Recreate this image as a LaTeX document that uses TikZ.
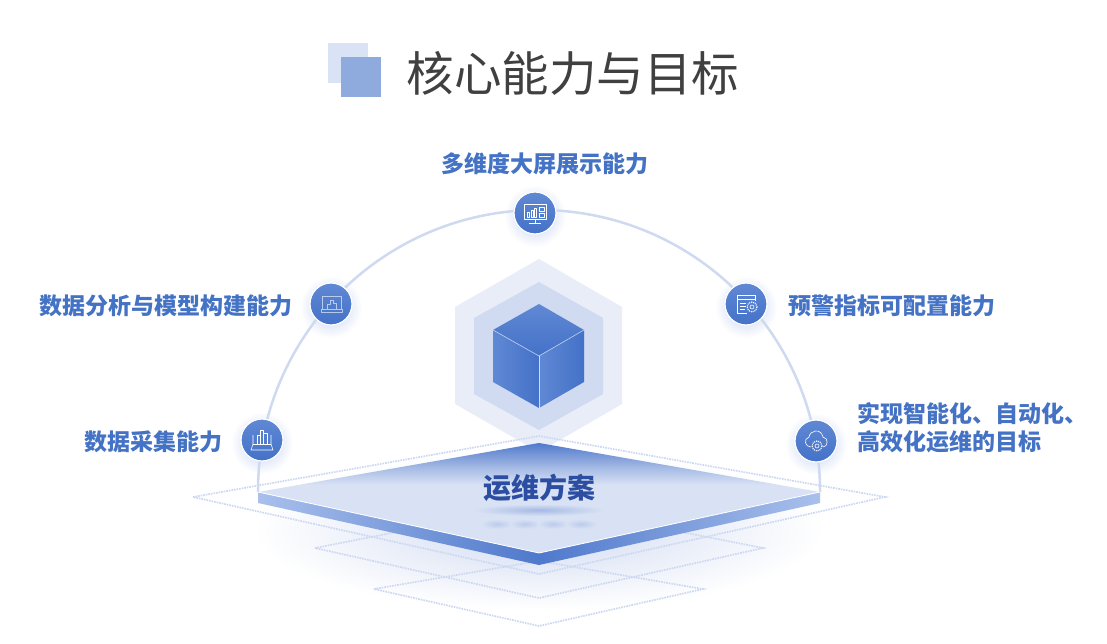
\documentclass[tikz,border=0pt]{standalone}
\usepackage{fontspec}
\setmainfont{Noto Sans CJK SC}

% Colours
\colorlet{titlecolor}{black!75}
\definecolor{labelcolor}{HTML}{4472C4}
\definecolor{plantextcolor}{HTML}{2B4EA3}
\definecolor{lightsquare}{HTML}{DAE3F5}
\definecolor{darksquare}{HTML}{8FAADC}
\definecolor{arccolor}{HTML}{CFDAF0}
\definecolor{hexouter}{HTML}{E9EDF8}
\definecolor{hexinner}{HTML}{D0DAF1}
\definecolor{cubelight}{HTML}{6088D4}
\definecolor{cubedark}{HTML}{4472C8}
\definecolor{platelight}{HTML}{D9E2F4}
\definecolor{platemid}{HTML}{A4B9E4}
\definecolor{platedark}{HTML}{4F79CC}
\definecolor{edgelight}{HTML}{A9C0EC}
\definecolor{dashcolor}{HTML}{CCD8F1}
\definecolor{glowcolor}{HTML}{BCCCEF}
\definecolor{blurcolor}{HTML}{BCCBEB}

\pgfdeclareverticalshading{platetop}{100bp}{color(0bp)=(platelight); color(56bp)=(platelight); color(64bp)=(platemid); color(75bp)=(platedark); color(100bp)=(platedark)}

\begin{document}
\begin{tikzpicture}[x=1pt, y=-1pt]

	\def\cx{539}
	\def\arcr{281}
	\def\iconw{0.6}

	% Styles
	\tikzstyle{capnode} = [circle, minimum size=42pt, inner sep=0pt, draw=white, line width=1.2pt, top color=cubelight, bottom color=cubedark]
	\tikzstyle{capglow} = [inner color=glowcolor, outer color=white]
	\tikzstyle{caplabel} = [text=labelcolor, font=\fontsize{23}{28}\selectfont\bfseries, inner sep=0pt]
	\tikzstyle{iconline} = [white, line width=\iconw pt, line join=round]
	\tikzstyle{gear} = [white, line width=1.2pt, dash pattern=on 1pt off 1pt]
	\tikzstyle{dashline} = [dashcolor, line width=1.7pt, dash pattern=on 1.6pt off 1pt]

	\useasboundingbox (0,0) rectangle (1107,644);
	\fill[white] (0,0) rectangle (1107,644);

	%== Title ==================================================================
	\fill[lightsquare] (328,43) rectangle (368,83);
	\fill[darksquare] (341,57) rectangle (381,97);
	\node[text=titlecolor, font=\fontsize{47.5}{50}\selectfont, inner sep=0pt] (title) at (573,73) {核心能力与目标};

	%== Half circle ============================================================
	\coordinate (monitorpos) at (535,213);
	\coordinate (laptoppos) at (331,304);
	\coordinate (standpos) at (262,440);
	\coordinate (formpos) at (746,304);
	\coordinate (cloudpos) at (816,441);

	\shade[capglow] (535,216) circle (31);
	\shade[capglow] (331,307) circle (31);
	\shade[capglow] (262,443) circle (31);
	\shade[capglow] (746,307) circle (31);
	\shade[capglow] (816,444) circle (31);

	\draw[arccolor, line width=2.5pt] (\cx-\arcr,492) -- (\cx-\arcr,491) arc[start angle=180, end angle=360, radius=\arcr] -- (\cx+\arcr,492);

	%== Hexagons and cube ======================================================
	\fill[hexouter] (\cx,259) -- (622,307) -- (622,404) -- (\cx,452) -- (455,404) -- (455,307) -- cycle;
	\fill[hexinner] (\cx,282) -- (603,318) -- (603,394) -- (\cx,430) -- (474,394) -- (474,318) -- cycle;

	\shade[top color=cubelight, bottom color=cubedark] (\cx,304) -- (584,330) -- (\cx,356) -- (493,330) -- cycle;
	\shade[left color=cubelight, right color=cubedark] (493,330) -- (\cx,356) -- (\cx,408) -- (493,382) -- cycle;
	\shade[left color=cubelight, right color=cubedark] (\cx,356) -- (584,330) -- (584,382) -- (\cx,408) -- cycle;
	\draw[white, opacity=0.55, line width=0.7pt] (493,330) -- (\cx,356) -- (584,330);
	\draw[white, opacity=0.7, line width=0.7pt] (\cx,356) -- (\cx,408);

	%== Dashed layers ==========================================================
	\shade[inner color=hexinner, outer color=white] (\cx,530) ellipse (285 and 80);

	\draw[dashline] (374,589) -- (\cx,561) -- (703,589) -- (\cx,626) -- cycle;
	\draw[dashline] (315,548) -- (\cx,504) -- (763,548) -- (\cx,598) -- cycle;
	\draw[dashline] (193,497) -- (\cx,436) -- (885,497) -- (\cx,574) -- cycle;

	%== Plate ==================================================================
	\shade[left color=edgelight, right color=platedark] (258,492) -- (\cx,553) -- (\cx,565) -- (258,503) -- cycle;
	\shade[left color=platedark, right color=edgelight] (\cx,553) -- (820,492) -- (820,503) -- (\cx,565) -- cycle;
	\shade[shading=platetop] (\cx,443) -- (820,492) -- (\cx,553) -- (258,492) -- cycle;
	\draw[white, line width=0.8pt] (258,492) -- (\cx,553) -- (820,492);

	\shade[inner color=platemid, outer color=platelight] (\cx,510) ellipse (66 and 6);
	\shade[inner color=blurcolor, outer color=platelight] (497,524) ellipse (16 and 5);
	\shade[inner color=blurcolor, outer color=platelight] (525,524) ellipse (16 and 5);
	\shade[inner color=blurcolor, outer color=platelight] (553,524) ellipse (16 and 5);
	\shade[inner color=blurcolor, outer color=platelight] (581,524) ellipse (16 and 5);

	\node[text=plantextcolor, font=\fontsize{28}{32}\selectfont\bfseries, inner sep=0pt] (plan) at (\cx,488) {运维方案};

	%== Capability nodes =======================================================
	\node[capnode] (monitor) at (monitorpos) {};
	\node[capnode] (laptop) at (laptoppos) {};
	\node[capnode] (stand) at (standpos) {};
	\node[capnode] (form) at (formpos) {};
	\node[capnode] (cloud) at (cloudpos) {};

	\node[caplabel] (monitorlabel) at (545,164) {多维度大屏展示能力};
	\node[caplabel, anchor=east] (laptoplabel) at (293,306) {数据分析与模型构建能力};
	\node[caplabel, anchor=east] (standlabel) at (223,442) {数据采集能力};
	\node[caplabel, anchor=west] (formlabel) at (788,306) {预警指标可配置能力};
	\node[caplabel, anchor=west, align=left] (cloudlabel) at (857,428) {实现智能化、自动化、\\高效化运维的目标};

	% Monitor icon
	\begin{scope}[shift={(monitor)}]
		\draw[iconline] (-11,-9) rectangle (11,6);
		\draw[iconline] (0,6) -- (0,10) (-6,10) -- (6,10);
		\draw[iconline] (-7.5,4) rectangle (-5.5,-1);
		\draw[iconline] (-4,4) rectangle (-2,-3);
		\draw[iconline] (-0.5,4) rectangle (1.5,-5);
		\draw[iconline] (4,-6) rectangle (9,-2) (4,0) rectangle (9,4);
	\end{scope}

	% Laptop icon
	\begin{scope}[shift={(laptop)}, opacity=0.6]
		\draw[iconline] (-9,5) -- (-9,-8) -- (10,-8) -- (10,5);
		\draw[iconline] (-10,5) rectangle (11,8);
		\draw[iconline] (-4,5) -- (-4,0) -- (-1,0) -- (-1,-4) -- (2,-4) -- (2,-1) -- (5,-1) -- (5,5);
	\end{scope}

	% Stand icon
	\begin{scope}[shift={(stand)}]
		\draw[iconline] (-9,-5) -- (-9,4) -- (-11,10) -- (11,10) -- (9,4) -- (9,-5);
		\draw[iconline] (-9,4) -- (9,4);
		\draw[iconline] (-5,4) rectangle (-2,-5);
		\draw[iconline] (-2,4) rectangle (1,-10);
		\draw[iconline] (1,4) rectangle (5,-7);
	\end{scope}

	% Form icon
	\begin{scope}[shift={(form)}]
		\draw[iconline] (1,9) -- (-9,9) -- (-9,-9) -- (9,-9) -- (9,-3);
		\draw[iconline] (-9,-5) -- (9,-5);
		\draw[iconline] (-6,-1) -- (0,-1) (-6,2) -- (0,2) (-6,5) -- (-1,5);
		\draw[gear] (6,3) circle (5);
		\draw[iconline] (6,3) circle (2);
	\end{scope}

	% Cloud icon
	\begin{scope}[shift={(cloud)}]
		\draw[iconline] (-5,6) .. controls (-11,6) and (-13,-2) .. (-7,-4) .. controls (-6,-11) and (5,-13) .. (7,-4) .. controls (13,-3) and (12,6) .. (7,6);
		\draw[gear] (1,5) circle (5);
		\draw[iconline] (1,5) circle (2);
	\end{scope}

\end{tikzpicture}
\end{document}
